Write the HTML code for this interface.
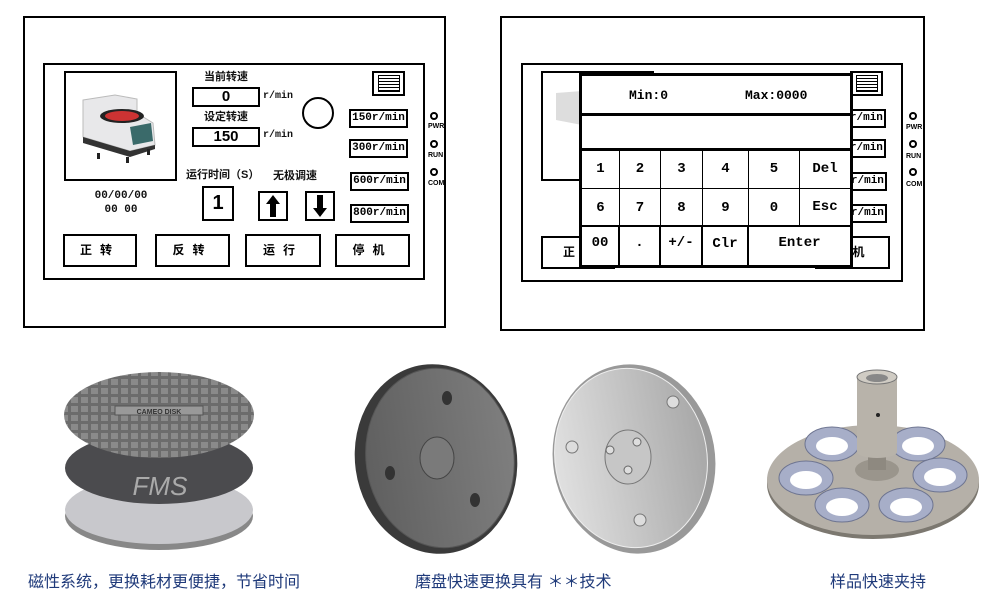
<!DOCTYPE html>
<html><head><meta charset="utf-8"><style>
*{margin:0;padding:0;box-sizing:border-box}
body{width:998px;height:607px;background:#fff;position:relative;overflow:hidden;font-family:"Liberation Sans","Noto Sans CJK SC",sans-serif}
.a{position:absolute}
.bx{position:absolute;border:2px solid #000;background:#fff}
.t{position:absolute;font-size:11px;font-weight:bold;color:#111;white-space:nowrap;line-height:1}
.m{font-family:"Liberation Mono",monospace}
.c{text-align:center}
.sp{position:absolute;border:2px solid #000;font-family:"Liberation Mono",monospace;font-size:11px;font-weight:bold;text-align:center;line-height:15px;background:#fff}
.btn{position:absolute;border:2px solid #000;font-size:12px;font-weight:bold;text-align:center;line-height:29px;letter-spacing:8px;background:#fff}
.led{position:absolute;width:8px;height:8px;border:2px solid #000;border-radius:50%}
.ll{position:absolute;font-size:7px;font-weight:bold;font-family:"Liberation Sans",sans-serif}
.cap{position:absolute;top:568px;font-size:16px;color:#1f3a7a;white-space:nowrap;font-family:"Liberation Sans","Noto Sans CJK SC",sans-serif}
.kp{position:absolute;left:579px;top:73px;width:274px;height:195px;border:3px solid #000;background:#fff}
.k{position:absolute;border-right:1px solid #000;border-bottom:1px solid #000;font-family:"Liberation Mono",monospace;font-weight:bold;font-size:14px;text-align:center}
</style></head><body>

<!-- LEFT PANEL -->
<div class="bx" style="left:23px;top:16px;width:423px;height:312px"></div>
<div class="bx" style="left:43px;top:63px;width:382px;height:217px"></div>
<div class="bx" style="left:64px;top:71px;width:113px;height:110px"></div>
<svg class="a" style="left:75px;top:85px" width="95" height="80" viewBox="0 0 95 80">
<path d="M8 15 L40 10 L62 14 L62 28 L78 38 L80 60 L55 66 L8 52 Z" fill="#e8e8ea" stroke="#bbb"/>
<path d="M8 52 L55 66 L80 60 L80 64 L55 72 L8 58 Z" fill="#333"/>
<ellipse cx="47" cy="31" rx="22" ry="7" fill="#222"/><ellipse cx="47" cy="31" rx="17" ry="5" fill="#c33"/>
<path d="M55 42 L76 38 L78 56 L58 60 Z" fill="#3a6a6a"/>
<rect x="22" y="68" width="3" height="6" fill="#222"/><rect x="72" y="64" width="3" height="6" fill="#222"/><rect x="51" y="72" width="3" height="6" fill="#222"/>
</svg>
<div class="t c" style="left:192px;top:72px;width:68px">当前转速</div>
<div class="bx" style="left:192px;top:87px;width:68px;height:20px;font-size:15px;font-weight:bold;text-align:center;line-height:16px">0</div>
<div class="t m" style="left:263px;top:92px;font-size:10px">r/min</div>
<div class="t c" style="left:192px;top:112px;width:68px">设定转速</div>
<div class="bx" style="left:192px;top:127px;width:68px;height:20px;font-size:15px;font-weight:bold;text-align:center;line-height:16px">150</div>
<div class="t m" style="left:263px;top:131px;font-size:10px">r/min</div>
<div class="a" style="left:302px;top:97px;width:32px;height:32px;border:2px solid #000;border-radius:50%"></div>
<div class="bx" style="left:372px;top:71px;width:33px;height:25px"></div>
<div class="a" style="left:378px;top:75px;width:22px;height:17px;border:1px solid #000;background:repeating-linear-gradient(#fff 0 2px,#000 2px 3px)"></div>
<div class="sp" style="left:349px;top:109px;width:59px;height:19px">150r/min</div>
<div class="sp" style="left:349px;top:139px;width:59px;height:19px">300r/min</div>
<div class="sp" style="left:350px;top:172px;width:59px;height:19px">600r/min</div>
<div class="sp" style="left:350px;top:204px;width:59px;height:19px">800r/min</div>
<div class="led" style="left:430px;top:112px"></div><div class="ll" style="left:428px;top:123px">PWR</div>
<div class="led" style="left:430px;top:140px"></div><div class="ll" style="left:428px;top:152px">RUN</div>
<div class="led" style="left:430px;top:168px"></div><div class="ll" style="left:428px;top:180px">COM</div>
<div class="t" style="left:186px;top:170px">运行时间（S）</div>
<div class="t" style="left:273px;top:171px">无极调速</div>
<div class="bx" style="left:202px;top:186px;width:32px;height:35px;font-size:20px;font-weight:bold;text-align:center;line-height:31px">1</div>
<div class="bx" style="left:258px;top:191px;width:30px;height:30px"></div>
<svg class="a" style="left:264px;top:194px" width="18" height="24"><path d="M9 1 L16 10 L12 10 L12 23 L6 23 L6 10 L2 10 Z"/></svg>
<div class="bx" style="left:305px;top:191px;width:30px;height:30px"></div>
<svg class="a" style="left:311px;top:194px" width="18" height="24"><path d="M9 23 L16 14 L12 14 L12 1 L6 1 L6 14 L2 14 Z"/></svg>
<div class="t m c" style="left:91px;top:191px;width:60px">00/00/00</div>
<div class="t m c" style="left:91px;top:205px;width:60px">00 00</div>
<div class="btn" style="left:63px;top:234px;width:74px;height:33px">正转</div>
<div class="btn" style="left:155px;top:234px;width:75px;height:33px">反转</div>
<div class="btn" style="left:245px;top:234px;width:76px;height:33px">运行</div>
<div class="btn" style="left:335px;top:234px;width:75px;height:33px">停机</div>

<!-- RIGHT PANEL -->
<div class="bx" style="left:500px;top:16px;width:425px;height:315px"></div>
<div class="bx" style="left:521px;top:63px;width:382px;height:219px"></div>
<div class="bx" style="left:541px;top:71px;width:113px;height:110px"></div>
<svg class="a" style="left:554px;top:85px" width="30" height="45"><path d="M2 8 L28 6 L28 40 L2 35 Z" fill="#ddd"/></svg>
<div class="bx" style="left:850px;top:71px;width:33px;height:25px"></div>
<div class="a" style="left:856px;top:75px;width:22px;height:17px;border:1px solid #000;background:repeating-linear-gradient(#fff 0 2px,#000 2px 3px)"></div>
<div class="sp" style="left:827px;top:109px;width:59px;height:19px">150r/min</div>
<div class="sp" style="left:827px;top:139px;width:59px;height:19px">300r/min</div>
<div class="sp" style="left:828px;top:172px;width:59px;height:19px">600r/min</div>
<div class="sp" style="left:828px;top:204px;width:59px;height:19px">800r/min</div>
<div class="led" style="left:909px;top:112px"></div><div class="ll" style="left:906px;top:124px">PWR</div>
<div class="led" style="left:909px;top:140px"></div><div class="ll" style="left:906px;top:153px">RUN</div>
<div class="led" style="left:909px;top:168px"></div><div class="ll" style="left:906px;top:181px">COM</div>
<div class="btn" style="left:541px;top:236px;width:74px;height:33px;text-align:left;padding-left:20px">正转</div>
<div class="btn" style="left:815px;top:236px;width:75px;height:33px">停机</div>

<div class="kp">
 <div class="a m" style="left:47px;top:12px;font-weight:bold;font-size:13px">Min:0</div>
 <div class="a m" style="left:163px;top:12px;font-weight:bold;font-size:13px">Max:0000</div>
 <div class="a" style="left:0;top:37px;width:268px;border-top:3px solid #000"></div>
 <div class="a" style="left:0;top:72px;width:268px;border-top:3px solid #000"></div>
 <div class="k" style="left:0;top:75px;width:38px;height:38px;line-height:36px">1</div>
 <div class="k" style="left:38px;top:75px;width:41px;height:38px;line-height:36px">2</div>
 <div class="k" style="left:79px;top:75px;width:42px;height:38px;line-height:36px">3</div>
 <div class="k" style="left:121px;top:75px;width:46px;height:38px;line-height:36px">4</div>
 <div class="k" style="left:167px;top:75px;width:51px;height:38px;line-height:36px">5</div>
 <div class="k" style="left:218px;top:75px;width:50px;height:38px;line-height:36px;border-right:0">Del</div>
 <div class="k" style="left:0;top:113px;width:38px;height:38px;line-height:38px;border-bottom:2px solid #000">6</div>
 <div class="k" style="left:38px;top:113px;width:41px;height:38px;line-height:38px;border-bottom:2px solid #000">7</div>
 <div class="k" style="left:79px;top:113px;width:42px;height:38px;line-height:38px;border-bottom:2px solid #000">8</div>
 <div class="k" style="left:121px;top:113px;width:46px;height:38px;line-height:38px;border-bottom:2px solid #000">9</div>
 <div class="k" style="left:167px;top:113px;width:51px;height:38px;line-height:38px;border-bottom:2px solid #000">0</div>
 <div class="k" style="left:218px;top:113px;width:50px;height:38px;line-height:36px;border-right:0;border-bottom:2px solid #000">Esc</div>
 <div class="k" style="left:0;top:151px;width:38px;height:38px;line-height:32px;border-bottom:0;border-right:2px solid #000">00</div>
 <div class="k" style="left:38px;top:151px;width:41px;height:38px;line-height:32px;border-bottom:0;border-right:2px solid #000">.</div>
 <div class="k" style="left:79px;top:151px;width:42px;height:38px;line-height:32px;border-bottom:0;border-right:2px solid #000">+/-</div>
 <div class="k" style="left:121px;top:151px;width:46px;height:38px;line-height:34px;border-bottom:0;border-right:2px solid #000">Clr</div>
 <div class="k" style="left:167px;top:151px;width:101px;height:38px;line-height:32px;border:0">Enter</div>
</div>

<!-- BOTTOM IMAGES -->
<svg class="a" style="left:0;top:340px" width="998" height="225" viewBox="0 340 998 225">
 <defs>
  <pattern id="g" width="10" height="9" patternUnits="userSpaceOnUse"><rect width="10" height="9" fill="#6c6c6c"/><rect x="1" y="1" width="7" height="6" fill="#8a8a8a"/></pattern>
  <linearGradient id="dg" x1="0" x2="1"><stop offset="0" stop-color="#606060"/><stop offset="1" stop-color="#7e7e7e"/></linearGradient>
  <linearGradient id="lg" x1="0" x2="1"><stop offset="0" stop-color="#e0e0e0"/><stop offset="1" stop-color="#a8a8a8"/></linearGradient>
 </defs>
 <ellipse cx="159" cy="516" rx="94" ry="34" fill="#888"/>
 <ellipse cx="159" cy="510" rx="94" ry="34" fill="#c8c8cc"/>
 <ellipse cx="159" cy="468" rx="94" ry="36" fill="#4b4b4e"/>
 <text x="160" y="495" font-size="26" font-style="italic" fill="#aaa" text-anchor="middle" font-family="Liberation Sans">FMS</text>
 <ellipse cx="159" cy="415" rx="95" ry="43" fill="url(#g)"/>
 <rect x="115" y="406" width="88" height="9" fill="#999" stroke="#555"/>
 <text x="159" y="414" font-size="7" font-weight="bold" fill="#333" text-anchor="middle" font-family="Liberation Sans">CAMEO DISK</text>
 <ellipse cx="436" cy="459" rx="81" ry="95" fill="#3a3a3a" transform="rotate(-8 436 459)"/>
 <ellipse cx="440" cy="458" rx="74" ry="90" fill="url(#dg)" stroke="#555" transform="rotate(-8 440 458)"/>
 <ellipse cx="437" cy="458" rx="17" ry="21" fill="#7a7a7a" stroke="#444"/>
 <ellipse cx="447" cy="398" rx="5" ry="7" fill="#333"/>
 <ellipse cx="390" cy="473" rx="5" ry="7" fill="#333"/>
 <ellipse cx="475" cy="500" rx="5" ry="7" fill="#333"/>
 <ellipse cx="634" cy="459" rx="81" ry="95" fill="#999" transform="rotate(-10 634 459)"/>
 <ellipse cx="631" cy="458" rx="76" ry="90" fill="url(#lg)" stroke="#eee" transform="rotate(-10 631 458)"/>
 <ellipse cx="628" cy="457" rx="23" ry="27" fill="#c6c6c6" stroke="#777"/>
 <circle cx="637" cy="442" r="4" fill="#ddd" stroke="#666"/><circle cx="610" cy="450" r="4" fill="#ddd" stroke="#666"/><circle cx="628" cy="470" r="4" fill="#ddd" stroke="#666"/>
 <circle cx="673" cy="402" r="6" fill="#ddd" stroke="#777"/><circle cx="572" cy="447" r="6" fill="#ddd" stroke="#777"/><circle cx="640" cy="520" r="6" fill="#ddd" stroke="#777"/>
 <ellipse cx="873" cy="484" rx="106" ry="55" fill="#7c7870"/>
 <ellipse cx="873" cy="480" rx="106" ry="55" fill="#b5b0a8"/>
 <g fill="#a7aec8" stroke="#6d7490">
  <ellipse cx="832" cy="444" rx="27" ry="17"/><ellipse cx="918" cy="444" rx="27" ry="17"/>
  <ellipse cx="806" cy="478" rx="27" ry="17"/><ellipse cx="940" cy="475" rx="27" ry="17"/>
  <ellipse cx="842" cy="505" rx="27" ry="17"/><ellipse cx="906" cy="505" rx="27" ry="17"/>
 </g>
 <g fill="#fff">
  <ellipse cx="832" cy="446" rx="16" ry="9"/><ellipse cx="918" cy="446" rx="16" ry="9"/>
  <ellipse cx="806" cy="480" rx="16" ry="9"/><ellipse cx="940" cy="477" rx="16" ry="9"/>
  <ellipse cx="842" cy="507" rx="16" ry="9"/><ellipse cx="906" cy="507" rx="16" ry="9"/>
 </g>
 <ellipse cx="877" cy="470" rx="22" ry="11" fill="#9a958c"/>
 <rect x="868" y="448" width="18" height="22" fill="#8e8980"/>
 <rect x="857" y="377" width="40" height="75" fill="#b8b3aa"/>
 <ellipse cx="877" cy="452" rx="20" ry="6" fill="#b8b3aa"/>
 <ellipse cx="877" cy="377" rx="20" ry="7" fill="#d0ccc4" stroke="#777"/>
 <ellipse cx="877" cy="378" rx="11" ry="4" fill="#888"/>
 <circle cx="878" cy="415" r="2" fill="#222"/>
</svg>

<div class="cap" style="left:28px">磁性系统，更换耗材更便捷，节省时间</div>
<div class="cap" style="left:415px">磨盘快速更换具有 ＊＊技术</div>
<div class="cap" style="left:830px">样品快速夹持</div>
</body></html>
